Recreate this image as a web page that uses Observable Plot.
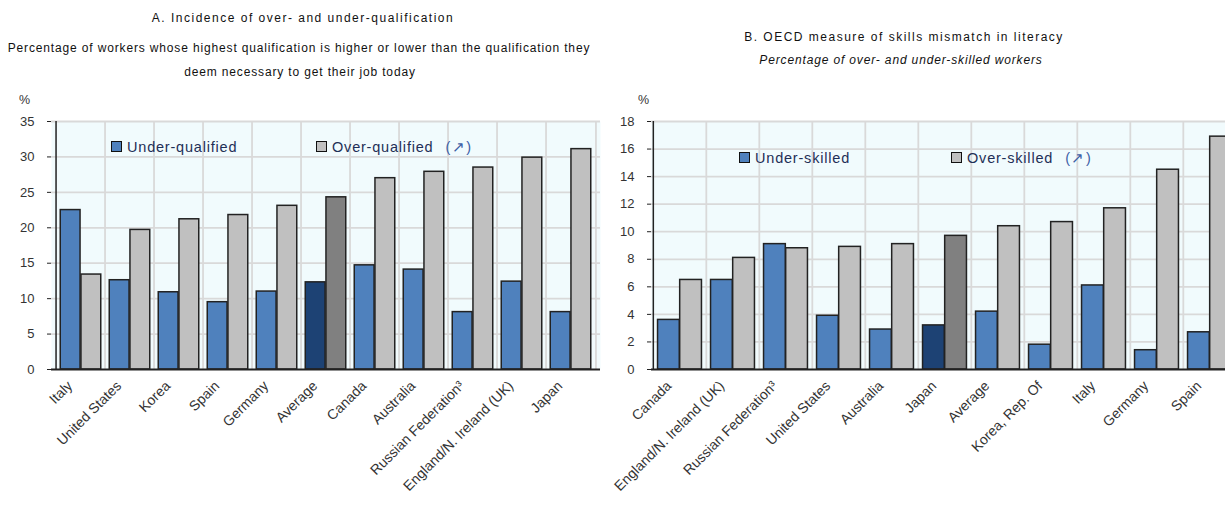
<!DOCTYPE html>
<html>
<head>
<meta charset="utf-8">
<script src="https://cdn.jsdelivr.net/npm/d3@7"></script>
<script src="https://cdn.jsdelivr.net/npm/@observablehq/plot@0.6"></script>
<style>
  body { margin: 0; background: #fff; font-family: "Liberation Sans", Arial, sans-serif; }
  #wrap { position: relative; width: 1225px; height: 508px; overflow: hidden; }
  .txt { position: absolute; white-space: nowrap; color: #111; }
  .center { transform: translateX(-50%); text-align: center; }
  .title { font-size: 12px; letter-spacing: 1.5px; }
  .sub { font-size: 12px; letter-spacing: 0.85px; }
  .leg { position: absolute; display: flex; align-items: center; height: 11px; white-space: nowrap;
         font-size: 14.5px; letter-spacing: 0.8px; color: #1f2f57; }
  .sw { display: inline-block; width: 9px; height: 9px; border: 1px solid #111; margin-right: 5px; }
  .arr { color: #3d5fa6; margin-left: 12px; letter-spacing: 1.5px; }
  .panel { position: absolute; }
  .panel svg { max-width: none !important; }
</style>
</head>
<body>
<div id="wrap">
  <div class="txt center title" style="left:303px;top:11px;">A. Incidence of over- and under-qualification</div>
  <div class="txt center sub" style="left:299px;top:41px;">Percentage of workers whose highest qualification is higher or lower than the qualification they</div>
  <div class="txt center sub" style="left:300px;top:65px;">deem necessary  to get their job today</div>
  <div class="txt" style="left:19px;top:93px;font-size:12.5px;color:#333;">%</div>

  <div class="txt center title" style="left:904px;top:30px;">B. OECD measure of skills mismatch in literacy</div>
  <div class="txt center sub" style="left:901px;top:53px;font-style:italic;">Percentage of over- and under-skilled workers</div>
  <div class="txt" style="left:638px;top:93px;font-size:12.5px;color:#333;">%</div>

  <div id="panelA" class="panel" style="left:0;top:100px;"></div>
  <div id="panelB" class="panel" style="left:610px;top:100px;"></div>

  <div class="leg" style="left:111px;top:141px;"><span class="sw" style="background:#4f81bd"></span>Under-qualified</div>
  <div class="leg" style="left:316px;top:141px;"><span class="sw" style="background:#c0c0c0"></span>Over-qualified<span class="arr">(↗)</span></div>
  <div class="leg" style="left:739px;top:152px;"><span class="sw" style="background:#4f81bd"></span>Under-skilled</div>
  <div class="leg" style="left:951px;top:152px;"><span class="sw" style="background:#c0c0c0"></span>Over-skilled<span class="arr">(↗)</span></div>
</div>
<script>
// Panel A: incidence of over- and under-qualification (%)
const countriesA = ["Italy", "United States", "Korea", "Spain", "Germany", "Average",
  "Canada", "Australia", "Russian Federation³", "England/N. Ireland (UK)", "Japan"];
const underA = [22.5, 12.6, 10.9, 9.5, 11.0, 12.3, 14.7, 14.1, 8.1, 12.4, 8.1];
const overA  = [13.4, 19.7, 21.2, 21.8, 23.1, 24.3, 27.0, 27.9, 28.5, 29.9, 31.1];
const highlightA = "Average";
const yTicksA = [0, 5, 10, 15, 20, 25, 30, 35];

// Panel B: OECD measure of skills mismatch in literacy (%)
const countriesB = ["Canada", "England/N. Ireland (UK)", "Russian Federation³", "United States",
  "Australia", "Japan", "Average", "Korea, Rep. Of", "Italy", "Germany", "Spain"];
const underB = [3.6, 6.5, 9.1, 3.9, 2.9, 3.2, 4.2, 1.8, 6.1, 1.4, 2.7];
const overB  = [6.5, 8.1, 8.8, 8.9, 9.1, 9.7, 10.4, 10.7, 11.7, 14.5, 16.9];
const highlightB = "Japan";
const yTicksB = [0, 2, 4, 6, 8, 10, 12, 14, 16, 18];

const colors = {
  under: "#4f81bd", over: "#c0c0c0",
  underHi: "#1d4274", overHi: "#808080",
  bg: "#f1fbfd", grid: "#d9d9d9", axis: "#222"
};

function panel({countries, under, over, highlight, yTicks, width, marginLeft, marginRight}) {
  const rows = countries.map((c, i) => ({country: c, under: under[i], over: over[i]}));
  const plotW = width - marginLeft - marginRight;
  const bw = plotW / countries.length;
  const pad = bw * 0.085;
  const half = bw / 2;
  const yMax = yTicks[yTicks.length - 1];
  return Plot.plot({
    width, height: 408,
    marginTop: 21, marginBottom: 139, marginLeft, marginRight,
    style: {fontFamily: "'Liberation Sans', Arial, sans-serif", background: "transparent", overflow: "visible", maxWidth: "none"},
    x: {type: "band", domain: countries, padding: 0, label: null},
    y: {domain: [0, yMax], label: null},
    color: {type: "identity"},
    marks: [
      Plot.frame({fill: colors.bg, stroke: null}),
      Plot.ruleY(yTicks.slice(1), {stroke: colors.grid, strokeWidth: 1.8}),
      Plot.ruleX(countries.slice(1), {x: d => d, dx: -half, stroke: colors.grid, strokeWidth: 1.8}),
      Plot.ruleX([countries[countries.length - 1]], {x: d => d, dx: half, stroke: colors.grid, strokeWidth: 1.8}),
      Plot.barY(rows, {
        x: "country", y: "under",
        fill: d => d.country === highlight ? colors.underHi : colors.under,
        stroke: colors.axis, strokeWidth: 1.5,
        insetLeft: pad, insetRight: half
      }),
      Plot.barY(rows, {
        x: "country", y: "over",
        fill: d => d.country === highlight ? colors.overHi : colors.over,
        stroke: colors.axis, strokeWidth: 1.5,
        insetLeft: half, insetRight: pad
      }),
      Plot.ruleX([countries[0]], {x: d => d, dx: -half, stroke: colors.axis, strokeWidth: 1.5}),
      Plot.ruleY([0], {stroke: colors.axis, strokeWidth: 1.8}),
      Plot.axisY({ticks: yTicks, tickSize: 4, tickPadding: 13, fontSize: 13, fill: "#333", stroke: colors.axis, label: null}),
      Plot.axisX({tickRotate: -45, tickSize: 0, tickPadding: 9, dx: -11, dy: 5, fontSize: 14, fill: "#333", label: null})
    ]
  });
}

document.getElementById("panelA").append(panel({
  countries: countriesA, under: underA, over: overA, highlight: highlightA,
  yTicks: yTicksA, width: 610, marginLeft: 51, marginRight: 10
}));
document.getElementById("panelB").append(panel({
  countries: countriesB, under: underB, over: overB, highlight: highlightB,
  yTicks: yTicksB, width: 628, marginLeft: 41, marginRight: 0
}));
</script>
</body>
</html>
